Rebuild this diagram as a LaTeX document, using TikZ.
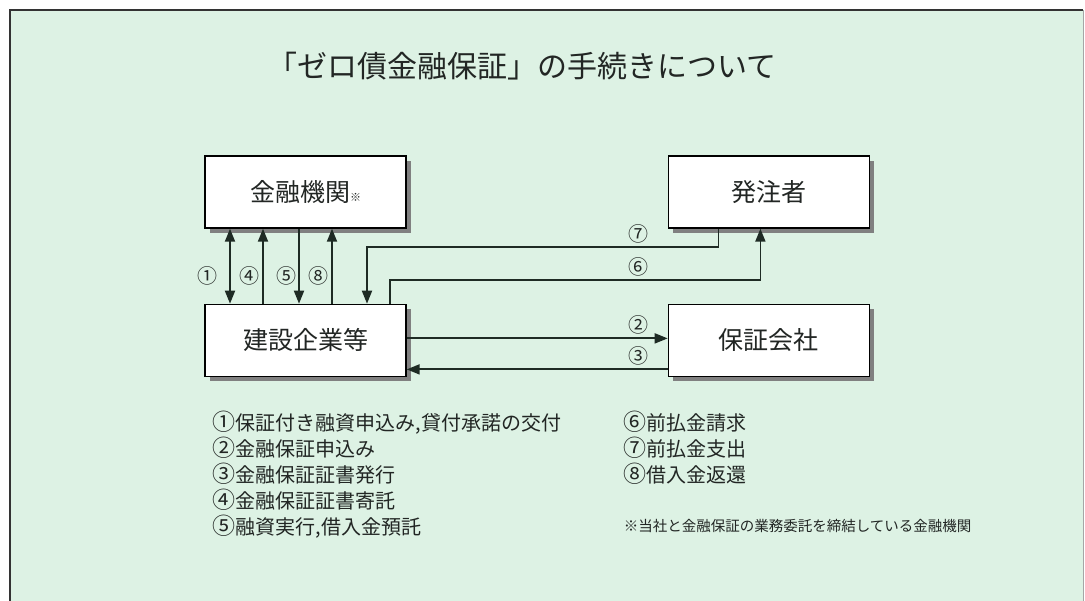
\documentclass[tikz,border=0pt]{standalone}
\usepackage{fontspec}
\setmainfont{Noto Sans CJK JP}
\usetikzlibrary{shapes.geometric, arrows.meta, shadows}
\usetikzlibrary{positioning}
\definecolor{mint}{RGB}{221,242,228}
\definecolor{ink}{RGB}{34,38,36}
\definecolor{wire}{RGB}{30,43,36}
\newcommand{\cnum}[1]{{\fontsize{23}{26}\selectfont #1}}
\tikzstyle{party} = [rectangle, minimum width=201pt, minimum height=72pt, text centered,
draw=black, line width=1.4pt, fill=white, text=ink, font=\fontsize{25}{30}\selectfont,
drop shadow={shadow xshift=5pt, shadow yshift=-5pt, fill=black!50, opacity=1}]
\tikzstyle{num} = [inner sep=1pt, text=ink, font=\fontsize{20}{22}\selectfont]
\tikzstyle{legend} = [align=left, anchor=north west, inner sep=0pt, text=ink,
font=\fontsize{20}{26}\selectfont]
\tikzstyle{arrow} = [line width=1.8pt, draw=wire, ->, >={Triangle[length=13pt,width=10pt]}]

\begin{document}
\begin{tikzpicture}[x=1pt, y=1pt, node distance=75pt and 261pt]
  \useasboundingbox (0,0) rectangle (1085,601);
  \fill[white] (0,0) rectangle (1085,601);
  \fill[mint] (10,0) rectangle (1083,591);
  \draw[line width=1.5pt, black!80] (10,0) -- (10,591) -- (1083,591);
  \draw[line width=1pt, black!35] (1083,591) -- (1083,0);

  \node (title) [text=ink, font=\fontsize{30}{36}\selectfont] at (522,535) {「ゼロ債金融保証」の手続きについて};

  \node (kinyu) [party] at (305.5,409) {金融機関{\fontsize{11}{12}\selectfont ※}};
  \node (kensetsu) [party, below=of kinyu] {建設企業等};
  \node (hatchu) [party, right=of kinyu] {発注者};
  \node (hosho) [party, below=of hatchu] {保証会社};

  \draw[arrow, <->] ([xshift=-75.5pt]kinyu.south) to node (n1) [num, left=11pt, pos=0.63] {①}
  ([xshift=-75.5pt]kensetsu.north);
  \draw[arrow] ([xshift=-42.5pt]kensetsu.north) to node (n4) [num, left=2pt, pos=0.37] {④}
  ([xshift=-42.5pt]kinyu.south);
  \draw[arrow] ([xshift=-6.5pt]kinyu.south) to node (n5) [num, left=1pt, pos=0.63] {⑤}
  ([xshift=-6.5pt]kensetsu.north);
  \draw[arrow] ([xshift=26.5pt]kensetsu.north) to node (n8) [num, left=2pt, pos=0.37] {⑧}
  ([xshift=26.5pt]kinyu.south);

  \draw[arrow] ([xshift=-50.5pt]hatchu.south) -- ++(0,-18) -| node (n7) [num, above=2pt, pos=0.113] {⑦}
  ([xshift=61.5pt]kensetsu.north);
  \draw[arrow] ([xshift=84.5pt]kensetsu.north) -- ++(0,24) -| node (n6) [num, above=2pt, pos=0.336] {⑥}
  ([xshift=-8.5pt]hatchu.south);

  \draw[arrow] ([yshift=2pt]kensetsu.east) to node (n2) [num, above=2pt, pos=0.89] {②}
  ([yshift=2pt]hosho.west);
  \draw[arrow] ([yshift=-29pt]hosho.west) to node (n3) [num, above=2pt, pos=0.11] {③}
  ([yshift=-29pt]kensetsu.east);

  \node (stepsL) [legend] at ([xshift=8pt, yshift=-34pt]kensetsu.south west)
  {\cnum{①}保証付き融資申込み,貸付承諾の交付\\\cnum{②}金融保証申込み\\\cnum{③}金融保証証書発行\\
  \cnum{④}金融保証証書寄託\\\cnum{⑤}融資実行,借入金預託};
  \node (stepsR) [legend] at ([xshift=-44pt, yshift=-34pt]hosho.south west)
  {\cnum{⑥}前払金請求\\\cnum{⑦}前払金支出\\\cnum{⑧}借入金返還};
  \node (note) [legend, font=\fontsize{14.5}{17}\selectfont] at ([xshift=-44pt, yshift=-142pt]hosho.south west)
  {※当社と金融保証の業務委託を締結している金融機関};
\end{tikzpicture}
\end{document}
